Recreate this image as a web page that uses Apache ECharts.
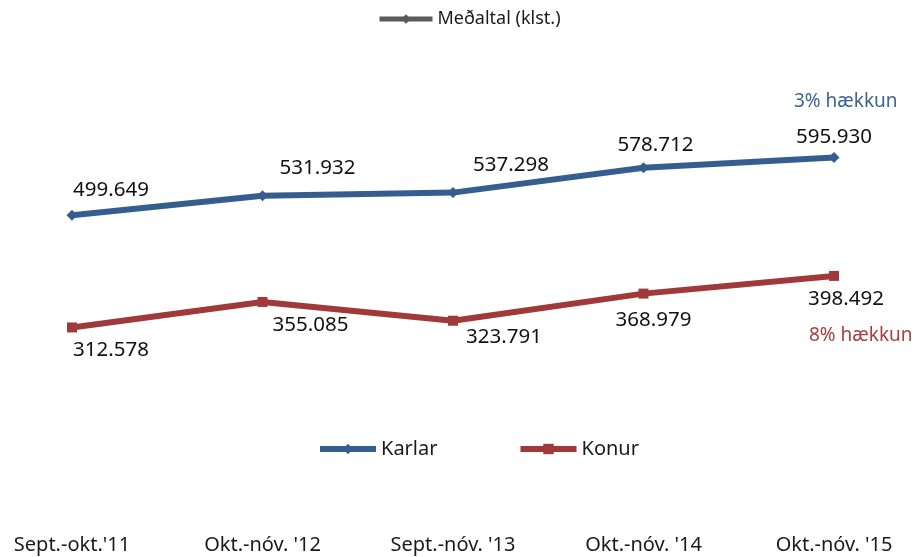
<!DOCTYPE html>
<html>
<head>
<meta charset="utf-8">
<script src="https://cdn.jsdelivr.net/npm/echarts@6/dist/echarts.min.js"></script>
<style>
  html, body { margin: 0; padding: 0; background: #ffffff; }
  #chart { width: 916px; height: 557px; }
</style>
</head>
<body>
<div id="chart"></div>
<script>
const categories = ["Sept.-okt.'11", "Okt.-nóv. '12", "Sept.-nóv. '13", "Okt.-nóv. '14", "Okt.-nóv. '15"]
const karlar = [499.649, 531.932, 537.298, 578.712, 595.930]
const konur = [312.578, 355.085, 323.791, 368.979, 398.492]
const karlarLabelOffsets = [[39, -25], [55, -28], [58, -27], [12, -23], [0, -20]]
const konurLabelOffsets = [[39, 23], [48, 23], [51, 16], [10, 27], [12, 23]]

const BLUE = '#355e8e'
const RED = '#a0393a'
const GRAY = '#5a5a5a'
const FONT = 'Noto Sans'

// labels keep 3 decimals, as in the picture
const fmt = v => v.toFixed(3)

const chart = echarts.init(document.getElementById('chart'))
chart.setOption({
  animation: false,
  backgroundColor: '#ffffff',
  textStyle: { fontFamily: FONT },
  grid: { left: 72, right: 82, top: 35, bottom: 42, containLabel: false },
  legend: [
    {
      data: ['Meðaltal (klst.)'],
      left: 372,
      top: 5,
      itemWidth: 53,
      itemHeight: 12,
      lineStyle: { width: 5 },
      textStyle: { fontSize: 18, color: '#1a1a1a', fontFamily: FONT }
    },
    {
      data: ['Karlar', 'Konur'],
      left: 312,
      top: 434,
      itemWidth: 56,
      itemHeight: 13,
      itemGap: 80,
      lineStyle: { width: 6 },
      textStyle: { fontSize: 20, color: '#1a1a1a', fontFamily: FONT }
    }
  ],
  xAxis: {
    type: 'category',
    data: categories,
    boundaryGap: false,
    axisLine: { show: false },
    axisTick: { show: false },
    splitLine: { show: false },
    axisLabel: {
      margin: 20,
      fontSize: 20,
      lineHeight: 20,
      color: '#1a1a1a',
      fontFamily: FONT,
      interval: 0
    }
  },
  yAxis: {
    type: 'value',
    min: 0,
    max: 800,
    show: false
  },
  graphic: [
    {
      type: 'text',
      left: 794,
      top: 92,
      style: { text: '3% hækkun', fill: '#3f6494', fontSize: 19, fontFamily: FONT }
    },
    {
      type: 'text',
      left: 809,
      top: 326,
      style: { text: '8% hækkun', fill: '#a4403f', fontSize: 19, fontFamily: FONT }
    }
  ],
  series: [
    {
      name: 'Karlar',
      type: 'line',
      symbol: 'diamond',
      symbolSize: 11,
      color: BLUE,
      lineStyle: { width: 6, color: BLUE },
      itemStyle: { color: BLUE },
      label: {
        show: true,
        position: 'inside',
        fontSize: 20.5,
        color: '#111111',
        fontFamily: FONT,
        formatter: p => fmt(p.value)
      },
      data: karlar.map((v, i) => ({ value: v, label: { offset: karlarLabelOffsets[i] } }))
    },
    {
      name: 'Konur',
      type: 'line',
      symbol: 'rect',
      symbolSize: 10,
      color: RED,
      lineStyle: { width: 6, color: RED },
      itemStyle: { color: RED },
      label: {
        show: true,
        position: 'inside',
        fontSize: 20.5,
        color: '#111111',
        fontFamily: FONT,
        formatter: p => fmt(p.value)
      },
      data: konur.map((v, i) => ({ value: v, label: { offset: konurLabelOffsets[i] } }))
    },
    {
      name: 'Meðaltal (klst.)',
      type: 'line',
      symbol: 'diamond',
      symbolSize: 9,
      color: GRAY,
      lineStyle: { width: 4, color: GRAY },
      itemStyle: { color: GRAY },
      data: []
    }
  ]
})
</script>
</body>
</html>
